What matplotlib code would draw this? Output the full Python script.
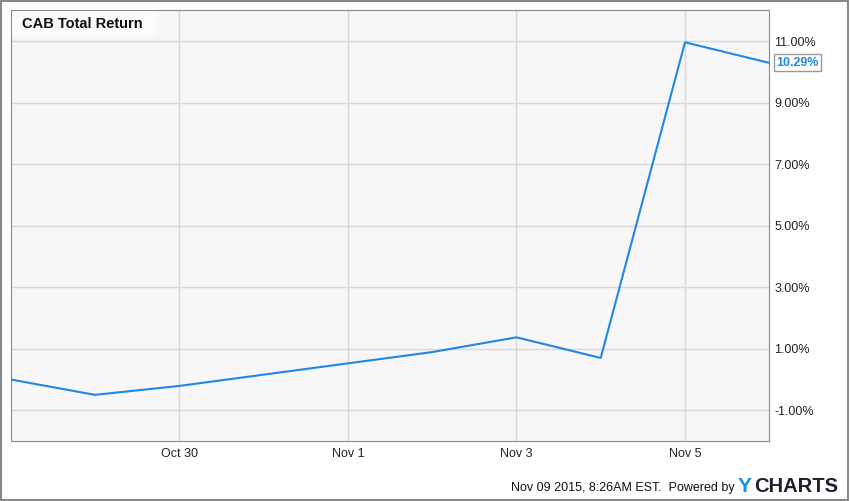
import matplotlib
matplotlib.use('Agg')
import matplotlib.pyplot as plt
from matplotlib.patches import Rectangle
import datetime as dt

# data (total return, %)
dates = ['2015-10-28', '2015-10-29', '2015-10-30', '2015-11-02',
         '2015-11-03', '2015-11-04', '2015-11-05', '2015-11-06']
valores = [0.0, -0.50, -0.21, 0.89, 1.37, 0.70, 10.96, 10.29]
yticks = [-1, 1, 3, 5, 7, 9, 11]
xticks = ['2015-10-30', '2015-11-01', '2015-11-03', '2015-11-05']
xticklabels = ['Oct 30', 'Nov 1', 'Nov 3', 'Nov 5']

plt.rcParams['font.family'] = ['Liberation Sans', 'DejaVu Sans']

datas = [dt.datetime.strptime(d, '%Y-%m-%d') for d in dates]
xt = [dt.datetime.strptime(d, '%Y-%m-%d') for d in xticks]

W, H = 850, 501
fig = plt.figure(figsize=(W / 100, H / 100), dpi=100)
ax = fig.add_axes([10.7 / W, 60 / H, 758.6 / W, 430.7 / H])
ax.set_facecolor('#f7f7f7')

azul = '#1f88e5'
ax.plot(datas, valores, color=azul, linewidth=1.5, zorder=3)

ax.set_xlim(datas[0], datas[-1])
ax.set_ylim(-2, 12)

ax.set_xticks(xt)
ax.set_xticklabels(xticklabels)
ax.set_yticks(yticks)
ax.set_yticklabels([f'{v:.2f}%' for v in yticks])
ax.yaxis.tick_right()
ax.tick_params(axis='both', length=0, labelsize=9, colors='#222222')
ax.tick_params(axis='y', pad=3.5)
ax.tick_params(axis='x', pad=5)

ax.grid(True, color='#d8d8d8', linewidth=1)
ax.set_axisbelow(True)
for s in ax.spines.values():
    s.set_color('#888888')

# titulo dentro do grafico
fig.patches.append(Rectangle((11.5 / W, 1 - 36 / H), 144 / W, 25 / H, transform=fig.transFigure,
                             facecolor='#fbfbfb', edgecolor='none', zorder=5))
fig.text(22 / W, 1 - 24 / H, 'CAB Total Return', ha='left', va='center',
         fontsize=10.5, fontweight='bold', color='#111111', zorder=6)

# rotulo do ultimo valor
ax.annotate(f'{valores[-1]:.2f}%', xy=(1.0, valores[-1]), xycoords=('axes fraction', 'data'),
            xytext=(5, 0), textcoords='offset points', ha='left', va='center',
            fontsize=9, fontweight='bold', color=azul,
            bbox=dict(boxstyle='square,pad=0.2', facecolor='white', edgecolor='#999999'))

# rodape
fig.text(735 / W, 1 - 488 / H, 'Nov 09 2015, 8:26AM EST.  Powered by', ha='right', va='center',
         fontsize=9, color='#111111')
fig.text(738 / W, 1 - 486 / H, 'Y', ha='left', va='center', fontsize=15,
         fontweight='bold', color='#1a8fe8')
fig.text(754 / W, 1 - 486 / H, 'CHARTS', ha='left', va='center', fontsize=14.5,
         fontweight='bold', color='#1b1f2e')

# borda externa
fig.patches.append(Rectangle((0.001, 0.001), 0.997, 0.997, transform=fig.transFigure,
                             fill=False, edgecolor='#888888', linewidth=1.5))

fig.savefig('out.png', dpi=100)
